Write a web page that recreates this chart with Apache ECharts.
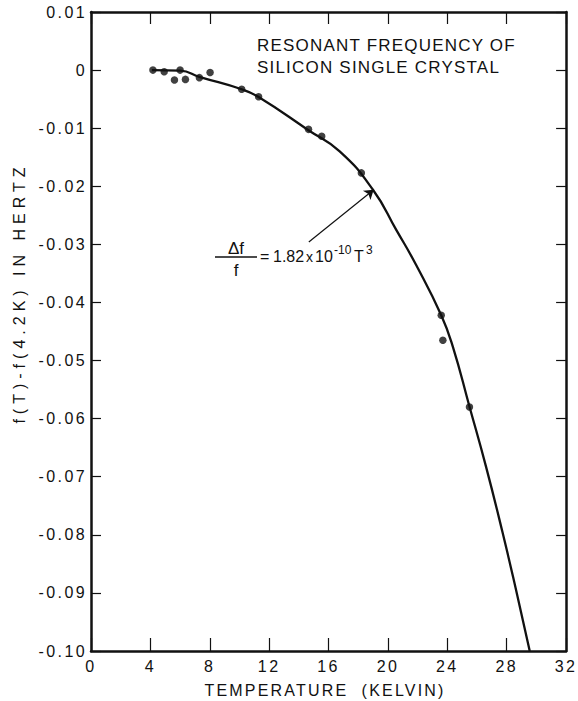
<!DOCTYPE html>
<html>
<head>
<meta charset="utf-8">
<title>Resonant frequency of silicon single crystal</title>
<script src="https://cdn.jsdelivr.net/npm/echarts@6/dist/echarts.min.js"></script>
<style>
  html, body { margin: 0; padding: 0; background: #fff; }
  #chart { width: 578px; height: 701px; }
</style>
</head>
<body>
<div id="chart"></div>

<script>
// measured points: temperature (K) and f(T)-f(4.2K) (Hz)
var measT  = [4.17, 4.93, 5.62, 6.0, 6.36, 7.3, 8.02, 10.15, 11.29, 14.65, 15.54, 18.21, 23.59, 23.7, 25.49];
var measDf = [0, -0.0003, -0.0017, 0, -0.0016, -0.0013, -0.0004, -0.0033, -0.0046, -0.0102, -0.0114, -0.0177, -0.0422, -0.0465, -0.058];

// drawn curve
var curveT  = [4.1, 6.0, 7.35, 10.15, 11.26, 14.62, 16.75, 18.99, 20.56, 21.91, 23.59, 24.37, 25.49, 26.61, 27.73, 28.63, 29.55];
var curveDf = [0, -0.0001, -0.0012, -0.0033, -0.0046, -0.0103, -0.014, -0.0206, -0.0275, -0.0336, -0.0422, -0.0476, -0.0579, -0.0683, -0.0797, -0.0895, -0.1];

// arrow from the formula to the curve
var arrowFrom = [14.67, -0.0296];
var arrowTo   = [19.04, -0.0206];

var yTickLabels = ['-0.10', '-0.09', '-0.08', '-0.07', '-0.06', '-0.05', '-0.04', '-0.03', '-0.02', '-0.01', '0', '0.01'];
var xTickLabels = ['0', '4', '8', '12', '16', '20', '24', '28', '32'];

var FONT = 'Liberation Sans';
var INK = '#111';

// wide lettering of the original drawing
var spacing = {
  'RESONANT FREQUENCY OF': 1.2,
  'SILICON SINGLE CRYSTAL': 1.2,
  'TEMPERATURE  (KELVIN)': 2.2,
  'f(T)-f(4.2K) IN HERTZ': 5
};

function pairs(a, b) {
  return a.map(function (v, i) { return [v, b[i]]; });
}
function f(size) { return size + 'px "' + FONT + '"'; }

function axisLine() {
  return { show: true, onZero: false, lineStyle: { color: INK, width: 2.5 } };
}
function ticks(len) {
  return { show: true, inside: true, length: len, lineStyle: { color: INK, width: 1.2 } };
}

var chart = echarts.init(document.getElementById('chart'), null, { renderer: 'svg' });

option = {
  animation: false,
  grid: { left: 91, right: 11, top: 12, bottom: 50 },
  xAxis: [
    {
      type: 'value', position: 'bottom', min: 0, max: 32, interval: 4,
      axisLine: axisLine(), axisTick: ticks(13),
      splitLine: { show: false },
      axisLabel: {
        color: INK, fontFamily: FONT, fontSize: 16, margin: 7,
        formatter: function (v) { return xTickLabels[Math.round(v / 4)]; }
      }
    },
    {
      type: 'value', position: 'top', min: 0, max: 32, interval: 4,
      axisLine: axisLine(), axisTick: ticks(12),
      splitLine: { show: false },
      axisLabel: { show: false }
    }
  ],
  yAxis: [
    {
      type: 'value', position: 'left', min: -0.1, max: 0.01, interval: 0.01,
      axisLine: axisLine(), axisTick: ticks(10),
      splitLine: { show: false },
      axisLabel: {
        color: INK, fontFamily: FONT, fontSize: 16, margin: 4,
        formatter: function (v) { return yTickLabels[Math.round((v + 0.1) / 0.01)]; }
      }
    },
    {
      type: 'value', position: 'right', min: -0.1, max: 0.01, interval: 0.01,
      axisLine: axisLine(), axisTick: ticks(10),
      splitLine: { show: false },
      axisLabel: { show: false }
    }
  ],
  series: [
    {
      type: 'line',
      data: pairs(curveT, curveDf),
      smooth: 0.5,
      showSymbol: false,
      clip: true,
      lineStyle: { color: INK, width: 2.3 },
      markLine: {
        silent: true,
        symbol: ['none', 'arrow'],
        symbolSize: 9,
        label: { show: false },
        lineStyle: { color: INK, width: 1.2, type: 'solid' },
        data: [[{ coord: arrowFrom }, { coord: arrowTo }]]
      }
    },
    {
      type: 'scatter',
      data: pairs(measT, measDf),
      symbol: 'circle',
      symbolSize: 7.5,
      itemStyle: { color: INK }
    }
  ],
  graphic: [
    { type: 'text', left: 257, top: 37, style: { text: 'RESONANT FREQUENCY OF', font: f(17), fill: INK } },
    { type: 'text', left: 257, top: 59, style: { text: 'SILICON SINGLE CRYSTAL', font: f(17), fill: INK } },
    { type: 'text', x: 325, y: 690, style: { text: 'TEMPERATURE  (KELVIN)', font: f(16), fill: INK, align: 'center', verticalAlign: 'middle' } },
    { type: 'text', x: 19, y: 293, rotation: Math.PI / 2, style: { text: 'f(T)-f(4.2K) IN HERTZ', font: f(16), fill: INK, align: 'center', verticalAlign: 'middle' } },
    // formula  Δf/f = 1.82 x 10^-10 T^3
    { type: 'text', x: 236, y: 248, style: { text: '\u0394f', font: f(17), fill: INK, align: 'center', verticalAlign: 'middle' } },
    { type: 'line', shape: { x1: 215, y1: 257, x2: 257, y2: 257 }, style: { stroke: INK, lineWidth: 1.5 } },
    { type: 'text', x: 236, y: 270, style: { text: 'f', font: f(17), fill: INK, align: 'center', verticalAlign: 'middle' } },
    { type: 'text', x: 260, y: 256, style: { text: '=', font: f(16), fill: INK, verticalAlign: 'middle' } },
    { type: 'text', x: 273, y: 256, style: { text: '1.82', font: f(16), fill: INK, verticalAlign: 'middle' } },
    { type: 'text', x: 306, y: 257, style: { text: 'x', font: f(14), fill: INK, verticalAlign: 'middle' } },
    { type: 'text', x: 315, y: 256, style: { text: '10', font: f(16), fill: INK, verticalAlign: 'middle' } },
    { type: 'text', x: 334, y: 250, style: { text: '-10', font: f(12), fill: INK, verticalAlign: 'middle' } },
    { type: 'text', x: 354, y: 256, style: { text: 'T', font: f(16), fill: INK, verticalAlign: 'middle' } },
    { type: 'text', x: 366, y: 250, style: { text: '3', font: f(12), fill: INK, verticalAlign: 'middle' } }
  ]
};
chart.setOption(option);

// letter spacing on the svg text nodes
function spreadLetters() {
  var nodes = document.querySelectorAll('#chart text');
  for (var i = 0; i < nodes.length; i++) {
    var t = nodes[i].textContent;
    var s = spacing[t];
    if (s === undefined && (xTickLabels.indexOf(t) >= 0 || yTickLabels.indexOf(t) >= 0)) s = 2.4;
    if (s !== undefined) nodes[i].style.letterSpacing = s + 'px';
  }
}
chart.on('finished', spreadLetters);
spreadLetters();
setTimeout(spreadLetters, 0);
</script>
</body>
</html>
